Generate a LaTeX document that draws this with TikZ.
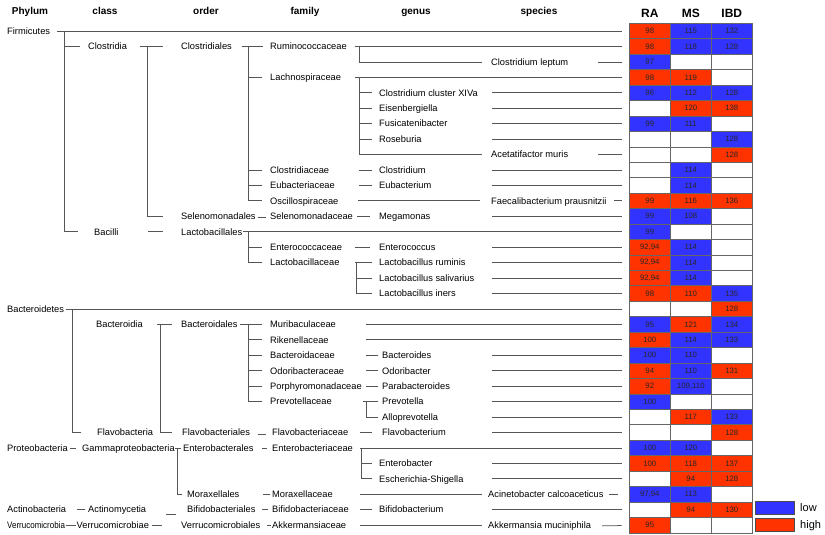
\documentclass[tikz,border=0pt]{standalone}
\usepackage{fontspec}
\usepackage{graphicx}
\setmainfont{Liberation Sans}
\definecolor{R}{RGB}{255,51,0}
\definecolor{B}{RGB}{51,51,255}
\definecolor{W}{RGB}{255,255,255}
\definecolor{lncol}{RGB}{85,85,85}
\begin{document}
\begin{tikzpicture}[x=1pt,y=-15.44pt,
  lab/.style={font=\fontsize{9.3}{11}\selectfont, inner sep=0pt, anchor=west, text height=6.6pt, text depth=0pt},
  hdr/.style={font=\bfseries\fontsize{10}{12}\selectfont, inner sep=0pt, text height=7.2pt, text depth=0pt},
  dhdr/.style={font=\bfseries\fontsize{12}{14}\selectfont, inner sep=0pt, text height=8.6pt, text depth=0pt},
  cell/.style={draw=black!60, line width=0.6pt, minimum width=41pt, minimum height=15.44pt, inner sep=0pt, font=\fontsize{7.8}{9}\selectfont, text=black!85},
  tl/.style={draw=lncol, line width=0.75pt},
  toc/.style={tl, shorten >=7.3pt},
  legbox/.style={draw=black!70, line width=0.6pt, minimum width=39pt, minimum height=13pt, inner sep=0pt},
  legtxt/.style={font=\fontsize{11}{13}\selectfont, inner sep=0pt, anchor=west, text height=8pt, text depth=0pt}
]
\useasboundingbox[fill=white] (0,-1.009) rectangle (825,33.641);

% headers
\node[hdr] (hphy) at (30,-0.297) {Phylum};
\node[hdr] (hcla) at (105,-0.297) {class};
\node[hdr] (hord) at (206,-0.297) {order};
\node[hdr] (hfam) at (305,-0.297) {family};
\node[hdr] (hgen) at (416,-0.297) {genus};
\node[hdr] (hspe) at (539,-0.297) {species};
\node[dhdr] (hra) at (649.8,-0.134) {RA};
\node[dhdr] (hms) at (690.8,-0.134) {MS};
\node[dhdr] (hibd) at (731.8,-0.134) {IBD};

% grid
\foreach \r/\ka/\ta/\kb/\tb/\kc/\tc in {
1/R/98/B/115/B/132,
2/R/98/B/118/B/128,
3/B/97/W/{}/W/{},
4/R/98/R/119/W/{},
5/B/96/B/112/B/128,
6/W/{}/R/120/R/138,
7/B/99/B/111/W/{},
8/W/{}/W/{}/B/128,
9/W/{}/W/{}/R/128,
10/W/{}/B/114/W/{},
11/W/{}/B/114/W/{},
12/R/99/R/116/R/136,
13/B/99/B/108/W/{},
14/B/99/W/{}/W/{},
15/R/{92,94}/B/114/W/{},
16/R/{92,94}/B/114/W/{},
17/R/{92,94}/B/114/W/{},
18/R/98/R/110/B/135,
19/W/{}/W/{}/R/128,
20/B/95/R/121/B/134,
21/R/100/B/114/B/133,
22/B/100/B/110/W/{},
23/R/94/B/110/R/131,
24/R/92/B/{109,110}/W/{},
25/B/100/W/{}/W/{},
26/W/{}/R/117/B/133,
27/W/{}/W/{}/R/128,
28/B/100/B/120/W/{},
29/R/100/R/118/R/137,
30/W/{}/R/94/R/128,
31/B/{97,94}/B/113/W/{},
32/W/{}/R/94/R/130,
33/R/95/W/{}/W/{}}{
  \node[cell,fill=\ka] (c\r-1) at (649.8,\r) {\ta};
  \node[cell,fill=\kb] (c\r-2) at (690.8,\r) {\tb};
  \node[cell,fill=\kc] (c\r-3) at (731.8,\r) {\tc};
}

% legend
\node[legbox,fill=B] (lowbox) at (774.5,31.86) {};
\node[legtxt] (lowtxt) at (800,31.86) {low};
\node[legbox,fill=R] (highbox) at (774.5,32.96) {};
\node[legtxt] (hightxt) at (800,32.96) {high};

% labels
\node[lab] (firm) at (7,1) {Firmicutes};
\node[lab] (clos) at (88,2) {Clostridia};
\node[lab] (closl) at (181,2) {Clostridiales};
\node[lab] (rumi) at (270,2) {Ruminococcaceae};
\node[lab] (clep) at (491,3) {Clostridium leptum};
\node[lab] (lach) at (270,4) {Lachnospiraceae};
\node[lab] (cxiv) at (379,5) {Clostridium cluster XIVa};
\node[lab] (eise) at (379,6) {Eisenbergiella};
\node[lab] (fusi) at (379,7) {Fusicatenibacter};
\node[lab] (rose) at (379,8) {Roseburia};
\node[lab] (acet) at (491,9) {Acetatifactor muris};
\node[lab] (clfa) at (270,10) {Clostridiaceae};
\node[lab] (clge) at (379,10) {Clostridium};
\node[lab] (eufa) at (270,11) {Eubacteriaceae};
\node[lab] (euge) at (379,11) {Eubacterium};
\node[lab] (osci) at (270,12) {Oscillospiraceae};
\node[lab] (faec) at (491,12) {Faecalibacterium prausnitzii};
\node[lab] (selo) at (181,13) {Selenomonadales};
\node[lab] (self) at (270,13) {Selenomonadaceae};
\node[lab] (mega) at (379,13) {Megamonas};
\node[lab] (baci) at (94,14) {Bacilli};
\node[lab] (lalo) at (181,14) {Lactobacillales};
\node[lab] (enfa) at (270,15) {Enterococcaceae};
\node[lab] (enge) at (379,15) {Enterococcus};
\node[lab] (lafa) at (270,16) {Lactobacillaceae};
\node[lab] (lrum) at (379,16) {Lactobacillus ruminis};
\node[lab] (lsal) at (379,17) {Lactobacillus salivarius};
\node[lab] (liner) at (379,18) {Lactobacillus iners};
\node[lab] (bact) at (7,19) {Bacteroidetes};
\node[lab] (bacc) at (96,20) {Bacteroidia};
\node[lab] (baco) at (181,20) {Bacteroidales};
\node[lab] (muri) at (270,20) {Muribaculaceae};
\node[lab] (rike) at (270,21) {Rikenellaceae};
\node[lab] (bafa) at (270,22) {Bacteroidaceae};
\node[lab] (bage) at (382,22) {Bacteroides};
\node[lab] (odfa) at (270,23) {Odoribacteraceae};
\node[lab] (odge) at (382,23) {Odoribacter};
\node[lab] (pofa) at (270,24) {Porphyromonadaceae};
\node[lab] (page) at (382,24) {Parabacteroides};
\node[lab] (prfa) at (270,25) {Prevotellaceae};
\node[lab] (prge) at (382,25) {Prevotella};
\node[lab] (allo) at (382,26) {Alloprevotella};
\node[lab] (flc) at (97,27) {Flavobacteria};
\node[lab] (flo) at (182,27) {Flavobacteriales};
\node[lab] (flf) at (272,27) {Flavobacteriaceae};
\node[lab] (flg) at (382,27) {Flavobacterium};
\node[lab] (prot) at (7,28) {Proteobacteria};
\node[lab] (gamm) at (82,28) {Gammaproteobacteria};
\node[lab] (ento) at (183,28) {Enterobacterales};
\node[lab] (entf) at (272,28) {Enterobacteriaceae};
\node[lab] (entg) at (379,29) {Enterobacter};
\node[lab] (esch) at (379,30) {Escherichia-Shigella};
\node[lab] (moro) at (187,31) {Moraxellales};
\node[lab] (morf) at (272,31) {Moraxellaceae};
\node[lab] (acin) at (488,31) {Acinetobacter calcoaceticus};
\node[lab] (actp) at (7,32) {Actinobacteria};
\node[lab] (actc) at (88,32) {Actinomycetia};
\node[lab] (bifo) at (187,32) {Bifidobacteriales};
\node[lab] (biff) at (272,32) {Bifidobacteriaceae};
\node[lab] (bifg) at (379,32) {Bifidobacterium};
\node[lab] (verp) at (7,33) {\scalebox{0.86}[1]{Verrucomicrobia}};
\node[lab] (verc) at (76.5,33) {Verrucomicrobiae};
\node[lab] (vero) at (181,33) {Verrucomicrobiales};
\node[lab] (verf) at (272,33) {Akkermansiaceae};
\node[lab] (akk) at (488,33) {Akkermansia muciniphila};

% Firmicutes
\draw[toc] (57,1) -- (c1-1);
\draw[tl] (64,1) |- (78,14);
\draw[tl] (64,2) -- (80,2);
\draw[tl] (140,2) -- (163,2);
\draw[tl] (147,2) |- (163,13);
\draw[tl] (242,2) -- (263,2);
\draw[tl] (248,2) |- (262,12);
\foreach \r in {4,10,11} \draw[tl] (248,\r) -- (262,\r);
\draw[toc] (355,2) -- (c2-1);
\draw[tl] (359,2) |- (482,3);
\draw[toc] (598,3) -- (c3-1);
\draw[toc] (355,4) -- (c4-1);
\draw[tl] (359,4) |- (482,9);
\foreach \r in {5,...,8,10,11} \draw[tl] (359,\r) -- (372,\r);
\foreach \r in {5,6,7,8,10,11,13,15,16,17,18,22,23,24,25,26,27,29,30,32} \draw[toc] (492,\r) -- (c\r-1);
\draw[toc] (598,9) -- (c9-1);
\draw[tl] (358,12) -- (480,12);
\draw[toc] (614,12) -- (c12-1);
\draw[tl] (258,13.08) -- (266,13.08);
\draw[tl] (357,13) -- (370,13);
\draw[tl] (148,14) -- (163,14);
\draw[toc] (243,14) -- (c14-1);
\draw[tl] (248,14) |- (262,16);
\draw[tl] (248,15) -- (262,15);
\draw[tl] (355,15) -- (370,15);
\draw[tl] (355,16) -- (372,16);
\draw[tl] (356,16) |- (372,18);
\draw[tl] (356,17) -- (372,17);
% Bacteroidetes
\draw[toc] (66,19) -- (c19-1);
\draw[tl] (72,19) |- (81,27);
\draw[tl] (157,20) -- (172,20);
\draw[tl] (160,20) |- (172,27);
\draw[tl] (240,20) -- (262,20);
\draw[tl] (248,20) |- (262,25);
\foreach \r in {21,...,24} \draw[tl] (248,\r) -- (262,\r);
\draw[toc] (366,20) -- (c20-1);
\draw[toc] (366,21) -- (c21-1);
\foreach \r in {22,23,24} \draw[tl] (366,\r) -- (378,\r);
\draw[tl] (363,25) -- (378,25);
\draw[tl] (366,25) |- (378,26);
\draw[tl] (258,27.12) -- (266,27.12);
\draw[tl] (360,27) -- (372,27);
% Proteobacteria
\draw[tl] (70,28) -- (76,28);
\draw[tl] (175,28) -- (181,28);
\draw[tl] (177.5,28) |- (182,31);
\draw[tl] (262,28) -- (267,28);
\draw[toc] (360,28) -- (c28-1);
\draw[tl] (361,28) |- (372,30);
\draw[tl] (361,29) -- (372,29);
\draw[tl] (263,31) -- (270,31);
\draw[tl] (360,31) -- (482,31);
\draw[tl, shorten >=11.3pt] (609,31) -- (c31-1);
% Actinobacteria
\draw[tl] (76.5,32) -- (85,32);
\draw[tl] (166,32.3) -- (176,32.3);
\draw[tl] (262,32) -- (268,32);
\draw[tl] (360,32) -- (372,32);
% Verrucomicrobia
\draw[tl] (66,33) -- (75.5,33);
\draw[tl] (152,33) -- (162,33);
\draw[tl] (267,33) -- (271,33);
\draw[tl] (360,33) -- (482,33);
\draw[toc] (602,33.05) -- (c33-1);
\end{tikzpicture}
\end{document}
